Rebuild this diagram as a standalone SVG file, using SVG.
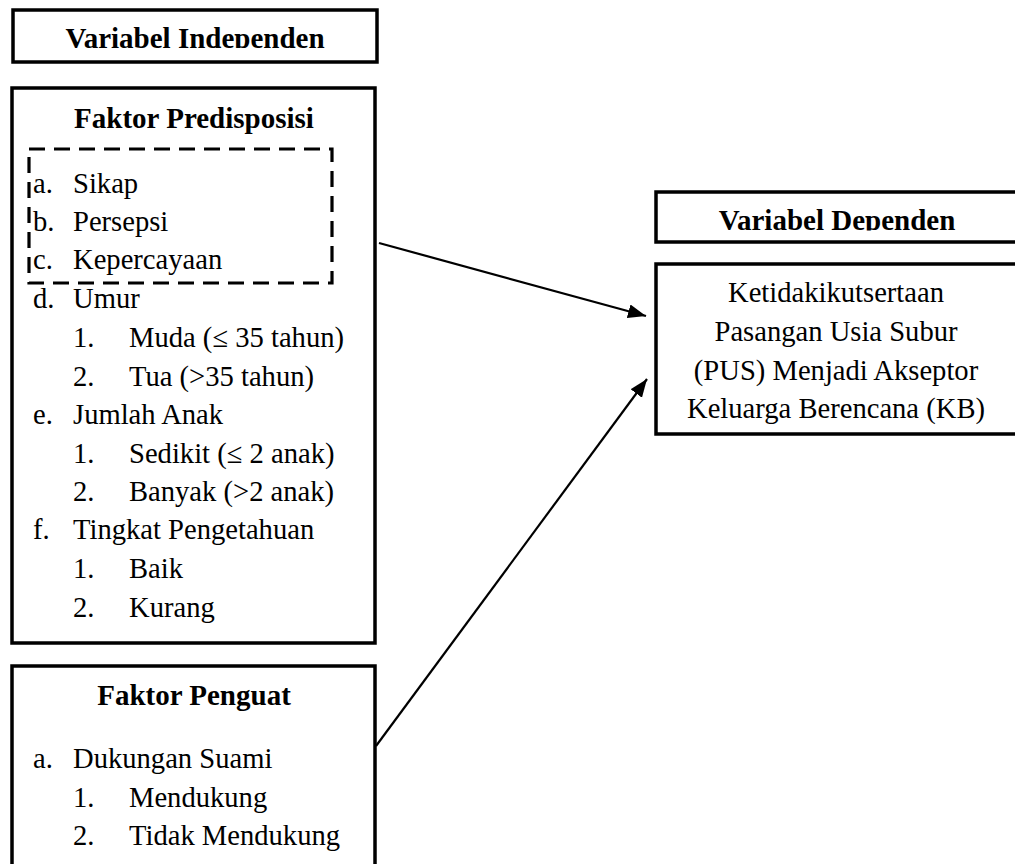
<svg xmlns="http://www.w3.org/2000/svg" width="1015" height="864" viewBox="0 0 1015 864">
<style>
.box{fill:#fff;stroke:#000;stroke-width:3.5}
.t{font-family:"Liberation Serif","Times New Roman",serif;fill:#000}
.b{font-weight:bold;font-size:29px;text-anchor:middle}
.r{font-size:28.6px}
.rs{font-size:28.6px;text-anchor:middle}
.con{stroke:#000;stroke-width:2.2;fill:none}
</style>
<defs>
<marker id="ah" markerUnits="userSpaceOnUse" markerWidth="20" markerHeight="16" refX="18" refY="7" orient="auto">
<path d="M0,0 L18,7 L0,14 Z" fill="#000"/>
</marker>
<clipPath id="c1"><rect x="0" y="0" width="400" height="48"/></clipPath>
<clipPath id="c2"><rect x="640" y="190" width="400" height="40.5"/></clipPath>
</defs>
<rect width="1015" height="864" fill="#fff"/>
<g id="var-independen">
<rect class="box" x="13" y="10" width="364" height="52"/>
<text class="t b" x="195" y="48" clip-path="url(#c1)">Variabel Independen</text>
</g>
<g id="faktor-predisposisi">
<rect class="box" x="12" y="88" width="363" height="555"/>
<text class="t b" x="194" y="128">Faktor Predisposisi</text>
<rect x="29" y="149" width="303" height="134" fill="none" stroke="#000" stroke-width="3.2" stroke-dasharray="16 9"/>
<g class="t r">
<text x="33" y="193">a.</text><text x="73" y="193">Sikap</text>
<text x="33" y="231">b.</text><text x="73" y="231">Persepsi</text>
<text x="33" y="269">c.</text><text x="73" y="269">Kepercayaan</text>
<text x="33" y="308">d.</text><text x="73" y="308">Umur</text>
<text x="73" y="347">1.</text><text x="129" y="347">Muda (≤ 35 tahun)</text>
<text x="73" y="386">2.</text><text x="129" y="386">Tua (&gt;35 tahun)</text>
<text x="33" y="424">e.</text><text x="73" y="424">Jumlah Anak</text>
<text x="73" y="463">1.</text><text x="129" y="463">Sedikit (≤ 2 anak)</text>
<text x="73" y="501">2.</text><text x="129" y="501">Banyak (&gt;2 anak)</text>
<text x="33" y="539">f.</text><text x="73" y="539">Tingkat Pengetahuan</text>
<text x="73" y="578">1.</text><text x="129" y="578">Baik</text>
<text x="73" y="617">2.</text><text x="129" y="617">Kurang</text>
</g>
</g>
<g id="faktor-penguat">
<rect class="box" x="12" y="666" width="363" height="210"/>
<text class="t b" x="194" y="705">Faktor Penguat</text>
<g class="t r">
<text x="33" y="768">a.</text><text x="73" y="768">Dukungan Suami</text>
<text x="73" y="807">1.</text><text x="129" y="807">Mendukung</text>
<text x="73" y="845">2.</text><text x="129" y="845">Tidak Mendukung</text>
</g>
</g>
<g id="var-dependen">
<rect class="box" x="656" y="192" width="400" height="50"/>
<text class="t b" x="837" y="230" clip-path="url(#c2)">Variabel Dependen</text>
</g>
<g id="ketidakikutsertaan">
<rect class="box" x="656" y="264" width="400" height="170"/>
<g class="t rs">
<text x="836" y="302">Ketidakikutsertaan</text>
<text x="836" y="341">Pasangan Usia Subur</text>
<text x="836" y="380">(PUS) Menjadi Akseptor</text>
<text x="836" y="418">Keluarga Berencana (KB)</text>
</g>
</g>
<g id="connectors">
<line class="con" x1="379" y1="243" x2="646" y2="316" marker-end="url(#ah)"/>
<line class="con" x1="376" y1="746" x2="647" y2="379" marker-end="url(#ah)"/>
</g>
</svg>
